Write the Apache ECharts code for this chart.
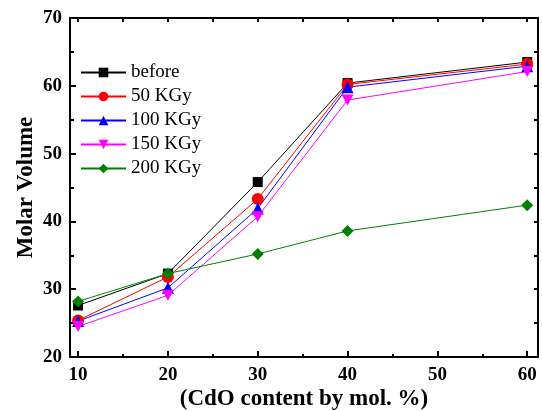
<!DOCTYPE html>
<html><head><meta charset="utf-8">
<script src="https://cdn.jsdelivr.net/npm/echarts@6/dist/echarts.min.js"></script>
<style>html,body{margin:0;padding:0;background:#fff}#c{width:542px;height:411px}</style>
</head><body><div id="c"></div>
<script>
const xValues = [10, 20, 30, 40, 60];
const before = [27.6, 32.3, 45.8, 60.4, 63.5];
const kgy50 = [25.4, 31.8, 43.3, 60.2, 63.2];
const kgy100 = [25.3, 30.2, 41.9, 59.8, 62.9];
const kgy150 = [24.5, 29.1, 40.7, 57.9, 62.1];
const kgy200 = [28.2, 32.3, 35.2, 38.6, 42.4];
const xTicks = [10, 20, 30, 40, 50, 60];
const xMinorTicks = [15, 25, 35, 45, 55];
const seriesNames = ['before', '50 KGy', '100 KGy', '150 KGy', '200 KGy'];

const F = 'Liberation Serif, Times New Roman, serif';
const colors = ['#000000', '#ff0000', '#0000ff', '#ff00ff', '#008000'];
const symbols = ['rect', 'circle', 'triangle', 'path://M0,0L10,0L5,9Z', 'diamond'];
const sizes = [10, 12, 12, [12, 11], 12];
const data = [before, kgy50, kgy100, kgy150, kgy200];

const chart = echarts.init(document.getElementById('c'), null, {renderer: 'canvas'});
const axisLine = {show: true, onZero: false, lineStyle: {color: '#000', width: 2}};
chart.setOption({
  animation: false,
  textStyle: {fontFamily: F},
  grid: {left: 70, right: 4, top: 18, bottom: 54, containLabel: false, outerBoundsMode: 'none'},
  legend: {
    orient: 'vertical', left: 75, top: 58, itemWidth: 45, itemHeight: 12, itemGap: 5,
    textStyle: {fontFamily: F, fontSize: 19, color: '#000'},
    data: seriesNames
  },
  xAxis: [
    {type: 'value', min: 9.1, max: 61.2, position: 'bottom',
     name: '(CdO content by mol. %)', nameLocation: 'middle', nameGap: 31, nameMoveOverlap: false,
     nameTextStyle: {fontFamily: F, fontSize: 23, fontWeight: 'bold', color: '#000'},
     axisLine: axisLine, splitLine: {show: false},
     axisTick: {show: true, inside: true, length: 6, customValues: xTicks, lineStyle: {width: 2, color: '#000'}},
     axisLabel: {customValues: xTicks, fontFamily: F, fontSize: 19, fontWeight: 'bold', color: '#000', margin: 9}},
    {type: 'value', min: 9.1, max: 61.2, position: 'top',
     axisLine: axisLine, splitLine: {show: false},
     axisTick: {show: true, inside: true, length: 4, customValues: xTicks.concat(xMinorTicks), lineStyle: {width: 2, color: '#000'}},
     axisLabel: {show: false}},
    {type: 'value', min: 9.1, max: 61.2, position: 'bottom',
     axisLine: {show: false}, splitLine: {show: false},
     axisTick: {show: true, inside: true, length: 3, customValues: xMinorTicks, lineStyle: {width: 2, color: '#000'}},
     axisLabel: {show: false}}
  ],
  yAxis: [
    {type: 'value', min: 20, max: 70, interval: 10, position: 'left',
     name: 'Molar Volume', nameLocation: 'middle', nameGap: 32, nameMoveOverlap: false,
     nameTextStyle: {fontFamily: F, fontSize: 23, fontWeight: 'bold', color: '#000', padding: [0, 0, 0, 0]},
     axisLine: axisLine, splitLine: {show: false},
     axisTick: {show: true, inside: true, length: 6, lineStyle: {width: 2, color: '#000'}},
     minorTick: {show: true, splitNumber: 2, length: 4, lineStyle: {width: 2, color: '#000'}},
     axisLabel: {fontFamily: F, fontSize: 19, fontWeight: 'bold', color: '#000', margin: 8}},
    {type: 'value', min: 20, max: 70, interval: 5, position: 'right',
     axisLine: axisLine, splitLine: {show: false},
     axisTick: {show: true, inside: true, length: 4, lineStyle: {width: 2, color: '#000'}},
     axisLabel: {show: false}}
  ],
  series: seriesNames.map((n, i) => ({
    name: n, type: 'line', xAxisIndex: 0, yAxisIndex: 0,
    data: xValues.map((x, j) => [x, data[i][j]]),
    symbol: symbols[i],
    symbolSize: sizes[i],
    showSymbol: true,
    itemStyle: {color: colors[i]},
    lineStyle: {color: colors[i], width: 1}
  }))
});
</script></body></html>
